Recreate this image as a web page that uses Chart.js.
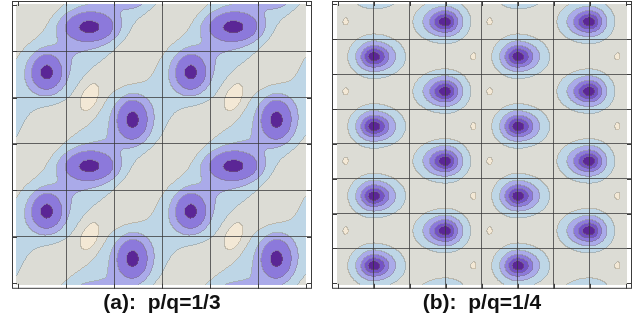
<!DOCTYPE html>
<html lang="en">
<head>
  <meta charset="UTF-8">
  <title>Contour panels</title>
  <script src="https://cdn.jsdelivr.net/npm/chart.js"></script>
  <style>
    body { margin: 0; background: #fff; }
    canvas { position: absolute; top: 0; }
  </style>
</head>
<body>

<canvas id="chartA" width="322" height="326" style="left:0"></canvas>
<canvas id="chartB" width="322" height="326" style="left:322px"></canvas>

<script>
  // ---- panel (a): p/q = 1/3, three maxima in each 3x3 period ----
  const aPeakX  = [1.49, 0.60, 2.39];
  const aPeakY  = [2.52, 1.54, 0.52];
  const aPeakSX = [0.30, 0.18, 0.18];
  const aPeakSY = [0.18, 0.22, 0.25];
  const aBroad  = 0.55;      // width of the ridge joining the maxima
  const aBroadAmp = 0.30;
  const aDipX = [1.50];
  const aDipY = [1.00];
  const aDipSX = [0.13];
  const aDipSY = [0.24];
  const aDipAngle = [-22];
  const aLevels = [-0.08, 0.155, 0.28, 0.50, 1.10];
  const aGrid = [1, 2, 3, 4, 5];
  const aTicks = [0, 1, 2, 3, 4, 5, 6];

  // ---- panel (b): p/q = 1/4, two egg-shaped maxima in each 4x2 period ----
  const bPeakX   = [1.0, 3.0];
  const bPeakY   = [0.5, 1.5];
  const bPeakSXL = [0.316, 0.40];
  const bPeakSXR = [0.40, 0.316];
  const bPeakSY  = [0.285, 0.285];
  const bDipX = [3.78, 0.23];
  const bDipY = [0.5, 1.5];
  const bDipSX = [0.05, 0.05];
  const bDipSY = [0.07, 0.07];
  const bLevels = [-0.10, 0.08, 0.30, 0.55, 0.75, 0.90];
  const bGrid = [1, 2, 3, 4, 5, 6, 7];
  const bTicks = [0, 1, 2, 3, 4, 5, 6, 7, 8];

  const beige = '#f3e8d5', grey = '#dcdcd5', lightBlue = '#bed6e6',
        lavender = '#aaaae9', violet = '#8c79db', deepViolet = '#7352c6', core = '#5b2696';

  function comp(x, y, sxl, sxr, sy, angle, amp) {
    const a = angle * Math.PI / 180;
    return {x, y, sxl, sxr, sy, c: Math.cos(a), s: Math.sin(a), amp};
  }

  const aComps = [];
  aPeakX.forEach((x, i) => {
    aComps.push(comp(x, aPeakY[i], aPeakSX[i], aPeakSX[i], aPeakSY[i], 0, 1));
    aComps.push(comp(x, aPeakY[i], aBroad, aBroad, aBroad, 0, aBroadAmp));
  });
  aDipX.forEach((x, i) => aComps.push(comp(x, aDipY[i], aDipSX[i], aDipSX[i], aDipSY[i], aDipAngle[i], -0.45)));

  const bComps = [];
  bPeakX.forEach((x, i) => bComps.push(comp(x, bPeakY[i], bPeakSXL[i], bPeakSXR[i], bPeakSY[i], 0, 1)));
  bDipX.forEach((x, i) => bComps.push(comp(x, bDipY[i], bDipSX[i], bDipSX[i], bDipSY[i], 0, -0.3)));

  function wrap(d, p) {
    return d - p * Math.round(d / p);
  }

  function field(comps, px, py, vx, vy) {
    let f = 0;
    for (const k of comps) {
      const bx = wrap(vx - k.x, px), by = wrap(vy - k.y, py);
      for (let i = -1; i <= 1; i++) {
        for (let j = -1; j <= 1; j++) {
          const dx = bx + i * px, dy = by + j * py;
          const u = dx * k.c + dy * k.s;
          const v = -dx * k.s + dy * k.c;
          const sx = u < 0 ? k.sxl : k.sxr;
          const e = (u * u) / (2 * sx * sx) + (v * v) / (2 * k.sy * k.sy);
          if (e < 25) f += k.amp * Math.exp(-e);
        }
      }
    }
    return f;
  }

  function hex(c) {
    return [1, 3, 5].map(i => parseInt(c.substr(i, 2), 16));
  }

  // filled contours, drawn under the grid
  const contourPlugin = {
    id: 'contour',
    beforeDraw(chart, args, o) {
      const {ctx, scales: {x, y}} = chart;
      const x0 = Math.round(x.getPixelForValue(o.xFrom)), x1 = Math.round(x.getPixelForValue(o.xTo));
      const y0 = Math.round(y.getPixelForValue(o.yTo)), y1 = Math.round(y.getPixelForValue(o.yFrom));
      const w = x1 - x0, h = y1 - y0;
      const lev = new Int8Array(w * h);
      for (let j = 0; j < h; j++) {
        const vy = y.getValueForPixel(y0 + j + 0.5);
        for (let i = 0; i < w; i++) {
          const vx = x.getValueForPixel(x0 + i + 0.5);
          const f = field(o.comps, o.periodX, o.periodY, vx, vy);
          let k = 0;
          while (k < o.levels.length && f >= o.levels[k]) k++;
          lev[j * w + i] = k;
        }
      }
      const cols = o.colors.map(hex);
      const line = [125, 118, 100];
      const img = ctx.createImageData(w, h);
      for (let j = 0; j < h; j++) {
        for (let i = 0; i < w; i++) {
          const n = j * w + i, k = lev[n];
          let c = cols[k];
          const edge = (i + 1 < w && lev[n + 1] !== k) || (j + 1 < h && lev[n + w] !== k);
          if (edge) c = c.map((v, m) => Math.round(v * 0.65 + line[m] * 0.35));
          img.data[n * 4] = c[0];
          img.data[n * 4 + 1] = c[1];
          img.data[n * 4 + 2] = c[2];
          img.data[n * 4 + 3] = 255;
        }
      }
      ctx.putImageData(img, x0, y0);
    },
    afterDraw(chart, args, o) {
      const {ctx, chartArea: a, scales: {x, y}} = chart;
      ctx.save();
      ctx.strokeStyle = '#3c3c3c';
      ctx.lineWidth = 1;
      ctx.strokeRect(a.left + 0.5, a.top + 0.5, a.right - a.left - 1, a.bottom - a.top - 1);
      ctx.beginPath();
      o.ticks.forEach(v => {
        const px = Math.round(x.getPixelForValue(v)) + 0.5;
        ctx.moveTo(px, a.bottom); ctx.lineTo(px, a.bottom - 5);
        ctx.moveTo(px, a.top); ctx.lineTo(px, a.top + 5);
        const py = Math.round(y.getPixelForValue(v)) + 0.5;
        ctx.moveTo(a.left, py); ctx.lineTo(a.left + 5, py);
        ctx.moveTo(a.right, py); ctx.lineTo(a.right - 5, py);
      });
      ctx.stroke();
      ctx.restore();
    }
  };

  function axis(min, max, grid) {
    return {
      type: 'linear',
      min: min,
      max: max,
      afterBuildTicks: s => { s.ticks = grid.map(v => ({value: v})); },
      ticks: { display: false },
      border: { display: false },
      grid: { drawTicks: false, color: 'rgba(55,55,55,0.75)', lineWidth: 1 }
    };
  }

  function makeChart(id, title, pad, xr, yr, grid, contour) {
    return new Chart(document.getElementById(id), {
      type: 'scatter',
      data: { datasets: [] },
      options: {
        responsive: false,
        animation: false,
        layout: { padding: pad },
        scales: { x: axis(xr[0], xr[1], grid), y: axis(yr[0], yr[1], grid) },
        plugins: {
          legend: { display: false },
          tooltip: { enabled: false },
          title: {
            display: true,
            position: 'bottom',
            text: title,
            color: '#111',
            font: { family: 'Liberation Sans', size: 21, weight: 'bold' },
            padding: { top: 2, bottom: 10 }
          },
          contour: contour
        }
      },
      plugins: [contourPlugin]
    });
  }

  makeChart('chartA', '(a):  p/q=1/3', { left: 12, right: 10, top: 1, bottom: 0 },
    [-0.125, 6.125], [-0.126, 6.083], aGrid,
    { comps: aComps, periodX: 3, periodY: 3, levels: aLevels,
      colors: [beige, grey, lightBlue, lavender, violet, core],
      xFrom: -0.04, xTo: 6.0, yFrom: -0.04, yTo: 6.02, ticks: aTicks });

  makeChart('chartB', '(b):  p/q=1/4', { left: 10, right: 12, top: 1, bottom: 0 },
    [-0.158, 8.175], [-0.16, 8.1], bGrid,
    { comps: bComps, periodX: 4, periodY: 2, levels: bLevels,
      colors: [beige, grey, lightBlue, lavender, violet, deepViolet, core],
      xFrom: -0.02, xTo: 8.04, yFrom: -0.04, yTo: 8.01, ticks: bTicks });
</script>

</body>
</html>
